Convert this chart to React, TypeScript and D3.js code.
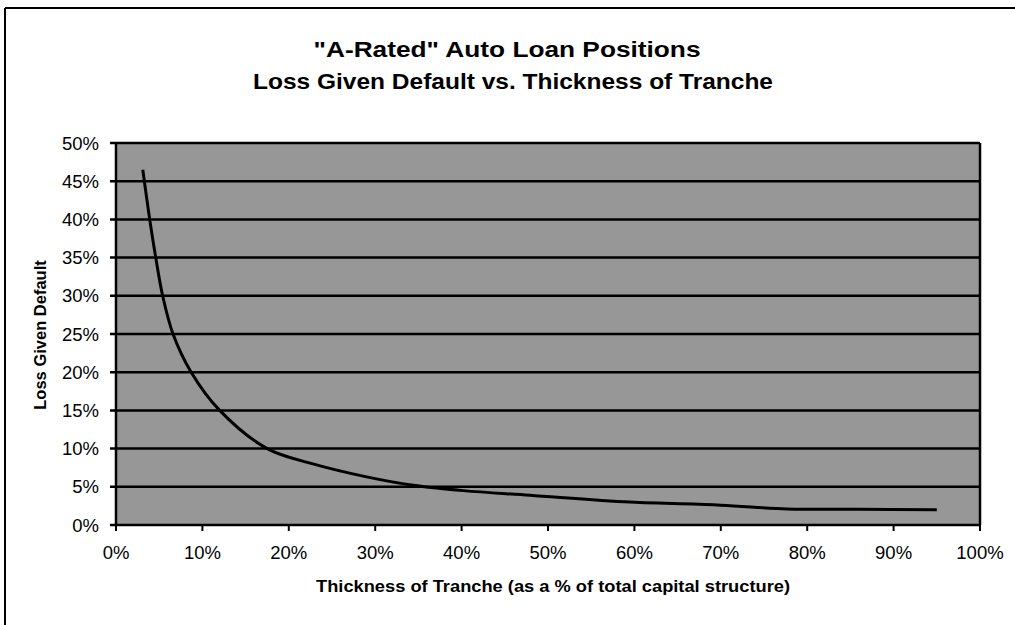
import React from "react";
import * as d3 from "d3";

const titleLines = ['"A-Rated" Auto Loan Positions', "Loss Given Default vs. Thickness of Tranche"];
const xAxisTitle = "Thickness of Tranche (as a % of total capital structure)";
const yAxisTitle = "Loss Given Default";

const xTicks = [0, 10, 20, 30, 40, 50, 60, 70, 80, 90, 100];
const yTicks = [0, 5, 10, 15, 20, 25, 30, 35, 40, 45, 50];

// Thickness of tranche (%) and loss given default (%)
const thickness = [3.1, 3.9, 4.6, 5.4, 6.6, 8.7, 12.0, 17.5, 22.8, 29, 34.4, 40.2, 47.9, 59.5, 70, 77.7, 86, 95];
const lgd = [46.5, 40, 35, 30, 25, 20, 15, 10, 8.0, 6.3, 5.2, 4.5, 3.9, 3.0, 2.6, 2.1, 2.05, 2.0];

export default function App() {
  const W = 1015, H = 625;
  const left = 116, right = 980, top = 143, bottom = 525;
  const x = d3.scaleLinear().domain([0, 100]).range([left, right]);
  const y = d3.scaleLinear().domain([0, 50]).range([bottom, top]);
  const pts: [number, number][] = thickness.map((t, i) => [t, lgd[i]]);
  const line = d3.line<[number, number]>().x(d => x(d[0])).y(d => y(d[1])).curve(d3.curveCatmullRom.alpha(0.5));
  const font = "'Liberation Sans', Arial, sans-serif";

  return (
    <svg width={W} height={H} style={{ position: "absolute", left: 0, top: 0, background: "#fff" }} fontFamily={font}>
      <rect x={0} y={0} width={W} height={H} fill="#fff" />
      {/* outer frame */}
      <line x1={5} y1={8} x2={W} y2={8} stroke="#000" strokeWidth={2} />
      <line x1={5} y1={8} x2={5} y2={H} stroke="#000" strokeWidth={2} />
      {/* titles */}
      <text x={507} y={57} textAnchor="middle" fontSize={22} fontWeight="bold" fill="#000" textLength={387} lengthAdjust="spacingAndGlyphs">{titleLines[0]}</text>
      <text x={513} y={89} textAnchor="middle" fontSize={22} fontWeight="bold" fill="#000" textLength={520} lengthAdjust="spacingAndGlyphs">{titleLines[1]}</text>
      {/* plot area */}
      <rect x={left} y={top} width={right - left} height={bottom - top} fill="#979797" />
      {yTicks.map(v => (
        <line key={"g" + v} x1={left - 6} x2={right} y1={y(v)} y2={y(v)} stroke="#000" strokeWidth={2.5} />
      ))}
      <line x1={left} x2={left} y1={top} y2={bottom} stroke="#000" strokeWidth={2.5} />
      <line x1={right} x2={right} y1={top} y2={bottom} stroke="#000" strokeWidth={2.5} />
      {xTicks.map(v => (
        <line key={"xt" + v} x1={x(v)} x2={x(v)} y1={bottom} y2={bottom + 6} stroke="#000" strokeWidth={2} />
      ))}
      {/* tick labels */}
      {yTicks.map(v => (
        <text key={"yl" + v} x={99} y={y(v) + 6.5} textAnchor="end" fontSize={18.5} fill="#000">{v + "%"}</text>
      ))}
      {xTicks.map(v => (
        <text key={"xl" + v} x={x(v)} y={559} textAnchor="middle" fontSize={18.5} fill="#000">{v + "%"}</text>
      ))}
      {/* axis titles */}
      <text x={553} y={592} textAnchor="middle" fontSize={17} fontWeight="bold" fill="#000" textLength={474} lengthAdjust="spacingAndGlyphs">{xAxisTitle}</text>
      <text transform={`translate(46, 335) rotate(-90)`} textAnchor="middle" fontSize={16.5} fontWeight="bold" fill="#000">{yAxisTitle}</text>
      {/* curve */}
      <path d={line(pts) || ""} fill="none" stroke="#000" strokeWidth={3} />
    </svg>
  );
}
